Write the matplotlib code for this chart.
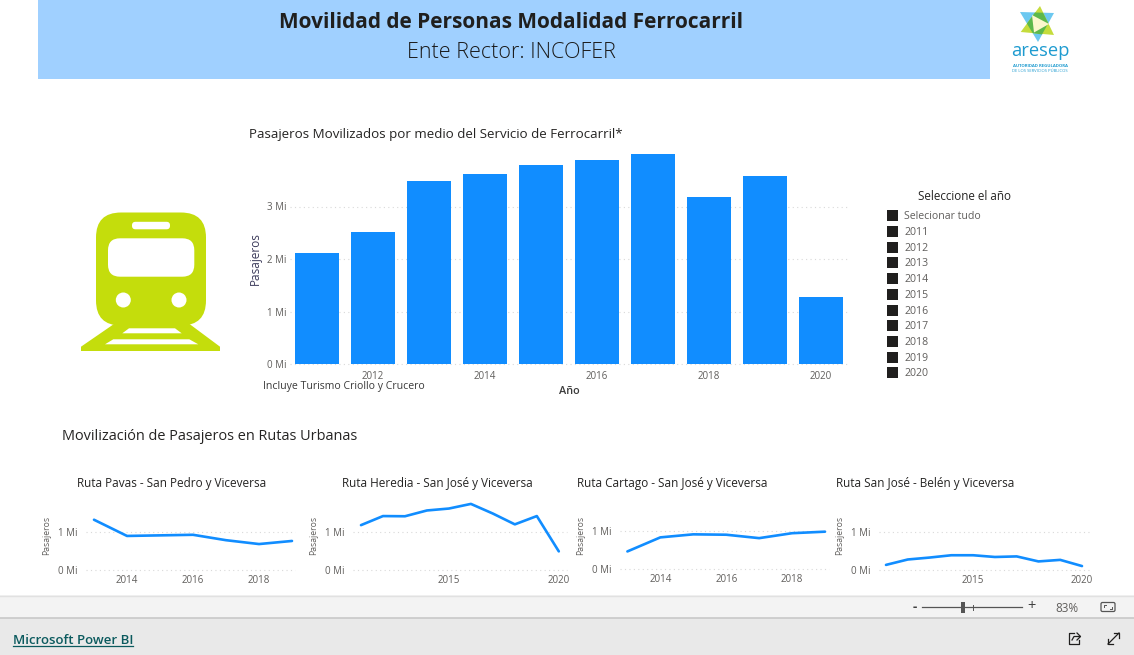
import matplotlib
matplotlib.use("Agg")
import matplotlib.pyplot as plt
from matplotlib.patches import FancyBboxPatch, Polygon, Circle, Rectangle

W, H = 1134, 655
TITLE_FONT = "Open Sans"
BODY_FONT = "Open Sans"

# ---- data ----
bar_years = [2011, 2012, 2013, 2014, 2015, 2016, 2017, 2018, 2019, 2020]
bar_values = [2.11, 2.51, 3.49, 3.62, 3.79, 3.88, 4.00, 3.19, 3.59, 1.28]

pavas_years = [2013, 2014, 2015, 2016, 2017, 2018, 2019]
pavas_values = [1.31, 0.89, 0.905, 0.92, 0.78, 0.68, 0.76]

heredia_years = [2011, 2012, 2013, 2014, 2015, 2016, 2017, 2018, 2019, 2020]
heredia_values = [1.17, 1.405, 1.40, 1.55, 1.60, 1.72, 1.47, 1.19, 1.405, 0.49]

cartago_years = [2013, 2014, 2015, 2016, 2017, 2018, 2019]
cartago_values = [0.47, 0.84, 0.92, 0.91, 0.82, 0.95, 0.99]

belen_years = [2011, 2012, 2013, 2014, 2015, 2016, 2017, 2018, 2019, 2020]
belen_values = [0.14, 0.28, 0.33, 0.39, 0.39, 0.345, 0.36, 0.23, 0.27, 0.11]

slicer_items = ["Selecionar tudo", "2011", "2012", "2013", "2014", "2015",
                "2016", "2017", "2018", "2019", "2020"]

BLUE = "#118DFF"
GREY = "#605E5C"
DARK = "#252423"

fig = plt.figure(figsize=(W / 100, H / 100), dpi=100, facecolor="white")

bg = fig.add_axes([0, 0, 1, 1], zorder=0)
bg.set_xlim(0, W)
bg.set_ylim(H, 0)
bg.axis("off")


def T(x, y, s, size, color=DARK, ha="left", va="center", font=BODY_FONT, weight="normal", **kw):
    return bg.text(x, y, s, fontsize=size, color=color, ha=ha, va=va,
                   family=font, fontweight=weight, **kw)


# header
bg.add_patch(Rectangle((38, 0), 952, 79, fc="#A0D0FF", ec="none"))
T(511, 23, "Movilidad de Personas Modalidad Ferrocarril", 15.0, ha="center", weight="bold", color="#201F1E")
T(511, 52, "Ente Rector: INCOFER", 15.5, ha="center", weight="300", color="#1A1A1A")

# logo
bg.add_patch(Polygon([(1020, 12), (1054, 13), (1038, 42)], fc="#6CC8F0", ec="none"))
bg.add_patch(Polygon([(1040, 6), (1020.7, 32), (1054, 35)], fc="#C5DC3C", ec="none"))
bg.add_patch(Polygon([(1035, 12.5), (1043, 12.7), (1048.3, 23.2), (1042, 34.5), (1032.6, 33), (1026.9, 23.6)],
                     fc="#5DB84A", ec="none"))
bg.add_patch(Polygon([(1032, 15), (1049, 24), (1034, 32.5)], fc="#FBF7CC", ec="none"))
T(1040, 51.5, "aresep", 13.2, color="#1E9BD0", ha="center")
T(1040, 66, "AUTORIDAD REGULADORA", 3.1, color="#1E9BD0", ha="center", weight="bold")
T(1040, 71, "DE LOS SERVICIOS PÚBLICOS", 3.0, color="#1E9BD0", ha="center")

# train icon
LIME = "#C4DD0C"
bg.add_patch(Polygon([(114, 324), (189.5, 324), (220, 346.7), (220, 351), (81, 351), (81, 346.7)], fc=LIME, ec="none"))
bg.add_patch(FancyBboxPatch((96 + 25, 212.5 + 25), 110 - 50, 113 - 50, boxstyle="round,pad=25,rounding_size=25",
                            fc=LIME, ec="none"))
bg.add_patch(FancyBboxPatch((135.5, 225.3), 31, 0.5, boxstyle="round,pad=3.5,rounding_size=3.5", fc="white", ec="none"))
bg.add_patch(FancyBboxPatch((120, 250.3), 62.3, 14.4, boxstyle="round,pad=12,rounding_size=12", fc="white", ec="none"))
bg.add_patch(Circle((123.3, 300), 7.5, fc="white", ec="none"))
bg.add_patch(Circle((179, 300), 7.5, fc="white", ec="none"))
bg.add_patch(Polygon([(129, 328.3), (175, 328.3), (181.7, 333.3), (122.3, 333.3)], fc="white", ec="none"))
bg.add_patch(Polygon([(113.3, 339.3), (189.3, 339.3), (198.3, 344.3), (105, 344.3)], fc="white", ec="none"))


def px_axes(x0, x1, y_top, y_zero):
    return fig.add_axes([x0 / W, 1 - y_zero / H, (x1 - x0) / W, (y_zero - y_top) / H],
                        zorder=2, facecolor="none")


def style(ax, tick_size, xpad, ypad):
    for s in ax.spines.values():
        s.set_visible(False)
    ax.set_axisbelow(True)
    ax.yaxis.grid(True, color="#D9D9D9", linestyle=(0, (1, 3)), linewidth=0.8, clip_on=False)
    ax.xaxis.grid(False)
    ax.tick_params(axis="both", length=0, labelsize=tick_size, labelcolor=GREY)
    ax.tick_params(axis="x", pad=xpad)
    ax.tick_params(axis="y", pad=ypad)
    for lab in ax.get_xticklabels() + ax.get_yticklabels():
        lab.set_family(BODY_FONT)


# main bars
ax = px_axes(289.5, 848.5, 154, 364)
ax.bar(bar_years, bar_values, width=0.8, color=BLUE)
ax.set_xlim(2011 - 27.5 / 56, 2020 + 27.5 / 56)
ax.set_ylim(0, 4.0)
ax.set_yticks([0, 1, 2, 3], ["0 Mi", "1 Mi", "2 Mi", "3 Mi"])
ax.set_xticks([2012, 2014, 2016, 2018, 2020], ["2012", "2014", "2016", "2018", "2020"])
style(ax, 7, 5, 2.5)

T(249, 134.5, "Pasajeros Movilizados por medio del Servicio de Ferrocarril*", 9.6, font=TITLE_FONT, color="#252423")
T(255, 259, "Pasajeros", 8.5, rotation=90, ha="center", color="#3b3a5a")
T(569, 391, "Año", 7.8, ha="center", color="#3A3A3A", weight="600")
T(263, 386.5, "Incluye Turismo Criollo y Crucero", 7.6, color="#3A3A3A")

# slicer
T(965, 197, "Seleccione el año", 8.4, ha="center", font=TITLE_FONT)
slicer_y = [215.7, 231.7, 247.7, 262.7, 278.7, 294.7, 310, 325.7, 341.7, 357.3, 372.7]
for yy, label in zip(slicer_y, slicer_items):
    bg.add_patch(Rectangle((887, yy - 5.5), 11, 11, fc="#201F1E", ec="none"))
    T(904.5, yy + 1.2, label, 7.6, color=GREY)

# section heading
T(62, 436.5, "Movilización de Pasajeros en Rutas Urbanas", 10.45, color="#252423")

# small multiples
panels = [
    dict(years=pavas_years, vals=pavas_values, title="Ruta Pavas - San Pedro y Viceversa", tx=77,
         x0=86, x1=295, xa=94, xb=292, ya=2013, yb=2019, zero=570.3, one=531.7,
         ticks=[2014, 2016, 2018], ylab=47),
    dict(years=heredia_years, vals=heredia_values, title="Ruta Heredia - San José y Viceversa", tx=342,
         x0=352.6, x1=567, xa=361, xb=558.8, ya=2011, yb=2020, zero=570.3, one=531.7,
         ticks=[2015, 2020], ylab=314),
    dict(years=cartago_years, vals=cartago_values, title="Ruta Cartago - San José y Viceversa", tx=577,
         x0=620, x1=829, xa=627.4, xb=825, ya=2013, yb=2019, zero=569.3, one=531.3,
         ticks=[2014, 2016, 2018], ylab=581),
    dict(years=belen_years, vals=belen_values, title="Ruta San José - Belén y Viceversa", tx=836,
         x0=879, x1=1089, xa=886, xb=1082, ya=2011, yb=2020, zero=570.3, one=531.7,
         ticks=[2015, 2020], ylab=840),
]
for p in panels:
    top = 500
    a = px_axes(p["x0"], p["x1"], top, p["zero"])
    a.plot(p["years"], p["vals"], color=BLUE, lw=1.9, solid_joinstyle="round", solid_capstyle="round", clip_on=False)
    per_year = (p["xb"] - p["xa"]) / (p["yb"] - p["ya"])
    a.set_xlim(p["ya"] - (p["xa"] - p["x0"]) / per_year, p["yb"] + (p["x1"] - p["xb"]) / per_year)
    a.set_ylim(0, (p["zero"] - top) / (p["zero"] - p["one"]))
    a.set_yticks([0, 1], ["0 Mi", "1 Mi"])
    a.set_xticks(p["ticks"], [str(t) for t in p["ticks"]])
    style(a, 7, 3.5, 6)
    T(p["tx"], 483, p["title"], 8.45, font=TITLE_FONT, color="#252423")
    T(p["ylab"], 535, "Pasajeros", 6.2, rotation=90, ha="center", color=GREY)

# bottom bars
bg.add_patch(Rectangle((0, 595), W, 23, fc="#F3F3F3", ec="none"))
bg.plot([0, W], [595.5, 595.5], color="#E1E1E1", lw=1)
bg.add_patch(Rectangle((0, 618), W, 37, fc="#E9E9E9", ec="none"))
bg.plot([0, W], [618, 618], color="#C8C8C8", lw=1.2)

T(915, 608, "-", 9.5, ha="center", color="#404040", weight="bold")
bg.plot([922, 1022], [607, 607], color="#555555", lw=0.9)
bg.add_patch(Rectangle((961, 601.5), 4, 11, fc="#555555", ec="none"))
bg.plot([973, 973], [604.5, 609.5], color="#555555", lw=0.7)
T(1032, 607, "+", 10.5, ha="center", color="#404040")
T(1067, 608, "83%", 8.5, ha="center", color=GREY)
bg.add_patch(FancyBboxPatch((1101.5, 603), 13, 8, boxstyle="round,pad=0.5,rounding_size=1.5", fc="none", ec="#555555", lw=0.9))
bg.plot([1104, 1104, 1106], [607, 605, 605], color="#555555", lw=0.7)
bg.plot([1112, 1112, 1110], [607, 609, 609], color="#555555", lw=0.7)

T(13, 640.5, "Microsoft Power BI", 9.5, color="#0B5A5E", weight="600")
bg.plot([13, 133], [646, 646], color="#0B5A5E", lw=0.9)

# share icon
bg.plot([1074, 1069, 1069, 1079, 1079], [633, 633, 644, 644, 640], color="#201F1E", lw=0.9)
bg.plot([1072, 1074, 1080], [640, 636.5, 636.5], color="#201F1E", lw=0.9)
bg.plot([1077, 1080.5, 1077], [633, 636.5, 640], color="#201F1E", lw=0.9)
# expand icon
bg.plot([1108, 1119], [644, 633], color="#201F1E", lw=0.9)
bg.plot([1108, 1108, 1113], [639, 644, 644], color="#201F1E", lw=0.9)
bg.plot([1114, 1119, 1119], [633, 633, 638], color="#201F1E", lw=0.9)

bg.set_xlim(0, W)
bg.set_ylim(H, 0)
fig.savefig("out.png", dpi=100, facecolor="white")
